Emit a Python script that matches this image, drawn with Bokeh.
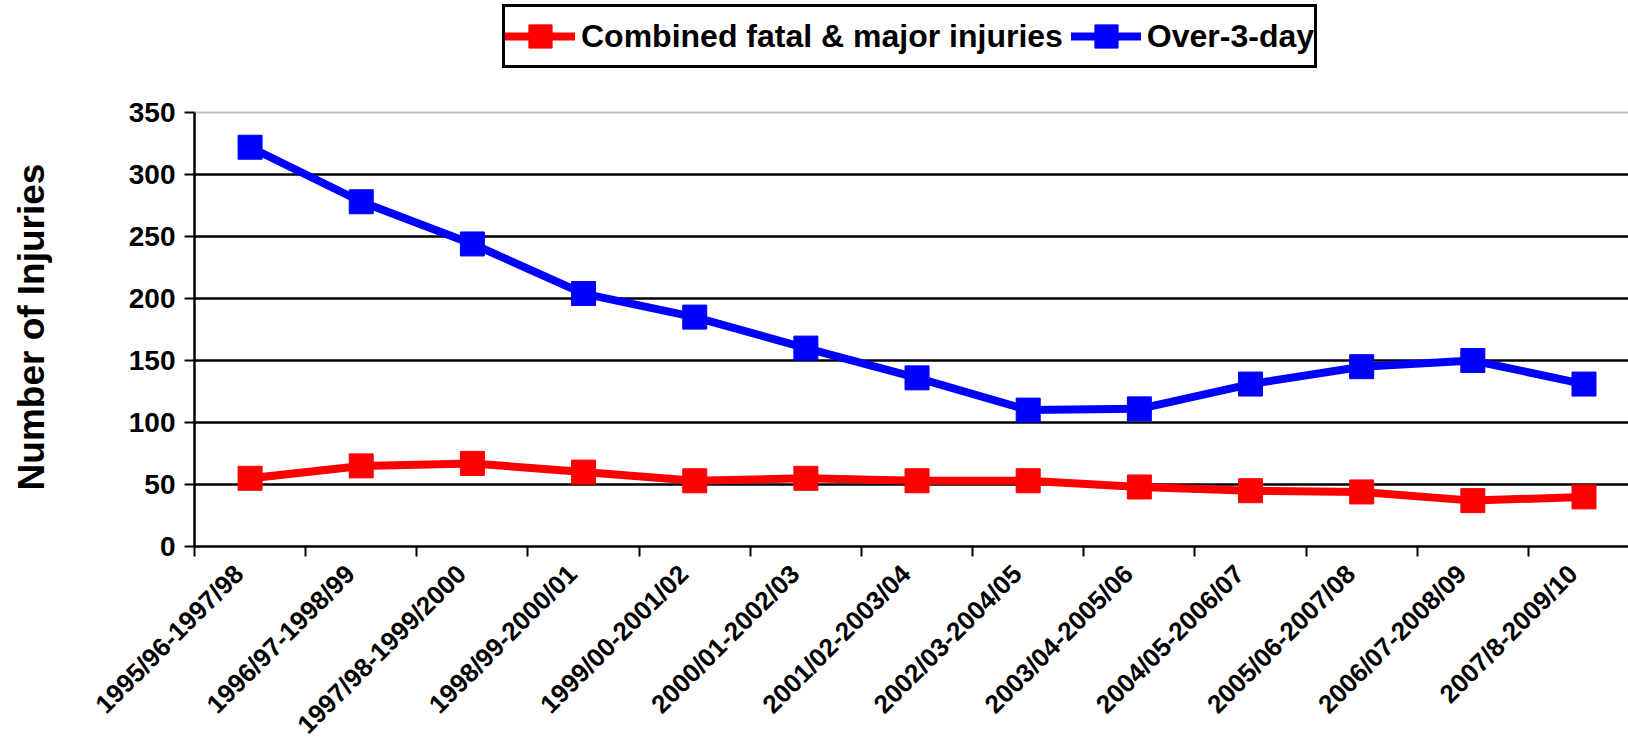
import math
from bokeh.plotting import figure
from bokeh.models import Range1d, FixedTicker, Legend, LegendItem
from bokeh.core.properties import value
from bokeh.embed import file_html
from bokeh.resources import INLINE

categories = ["1995/96-1997/98", "1996/97-1998/99", "1997/98-1999/2000",
              "1998/99-2000/01", "1999/00-2001/02", "2000/01-2002/03",
              "2001/02-2003/04", "2002/03-2004/05", "2003/04-2005/06",
              "2004/05-2006/07", "2005/06-2007/08", "2006/07-2008/09",
              "2007/8-2009/10"]
fatal_major = [55, 65, 67, 60, 53, 55, 53, 53, 48, 45, 44, 37, 40]
over_3_day = [322, 278, 244, 204, 185, 160, 136, 110, 111, 131, 145, 150, 131]
y_ticks = [0, 50, 100, 150, 200, 250, 300, 350]
y_tick_labels = ["0", "50", "100", "150", "200", "250", "300", "350"]
grid_ticks = [50, 100, 150, 200, 250, 300]
top_gridline = [350]
y_title = "Number of Injuries"

FONT = "Liberation Sans"
n = len(categories)
xs = [i + 0.5 for i in range(n)]
bounds = list(range(n + 1))

# page geometry: the plotting frame fills the whole figure, the axes sit at 0
W, H = 1628, 742
AX_X, AX_Y = 194, 546            # page position of x=0 and y=0
CAT_PX = 111.16                  # pixels per category
PPU = (AX_Y - 112) / 350.0       # pixels per injury
x_start, x_end = -AX_X / CAT_PX, (W - AX_X) / CAT_PX
y_start, y_end = -(H - AX_Y) / PPU, AX_Y / PPU
ytitle_val = (AX_Y - 326.5) / PPU

p = figure(width=W, height=H, output_backend="svg", toolbar_location=None,
           x_range=Range1d(x_start, x_end), y_range=Range1d(y_start, y_end),
           min_border_left=0, min_border_top=0, min_border_bottom=0, min_border_right=0)
p.outline_line_color = None
p.background_fill_color = "white"
p.border_fill_color = "white"
p.grid.visible = False

# horizontal gridlines across the plot area only
p.segment(x0=[0] * len(grid_ticks), x1=[x_end] * len(grid_ticks), y0=grid_ticks, y1=grid_ticks,
          line_color="black", line_width=2.5, level="underlay")
p.segment(x0=[0], x1=[x_end], y0=top_gridline, y1=top_gridline,
          line_color="#c0c0c0", line_width=2, level="underlay")

# axes drawn at 0 inside the frame, ticks only
xa = p.xaxis[0]
xa.fixed_location = 0
xa.bounds = (0, x_end)
xa.ticker = FixedTicker(ticks=[], minor_ticks=bounds)
xa.major_tick_out = 0
xa.major_tick_in = 0
xa.major_label_standoff = 0
xa.minor_tick_out = 10
xa.minor_tick_in = 0
xa.minor_tick_line_width = 2
xa.minor_tick_line_color = "black"
xa.axis_line_width = 2.5
xa.axis_line_color = "black"

ya = p.yaxis[0]
ya.fixed_location = 0
ya.bounds = (0, 350)
ya.ticker = FixedTicker(ticks=[], minor_ticks=y_ticks)
ya.major_tick_out = 0
ya.major_tick_in = 0
ya.major_label_standoff = 0
ya.minor_tick_out = 10
ya.minor_tick_in = 0
ya.minor_tick_line_width = 2
ya.minor_tick_line_color = "black"
ya.axis_line_width = 2.5
ya.axis_line_color = "black"

# data
rb_l = p.line(xs, over_3_day, line_color="#0000FF", line_width=8, line_cap="round")
rb_s = p.scatter(xs, over_3_day, marker="square", size=24, fill_color="#0000FF", line_color="#0000FF")
rr_l = p.line(xs, fatal_major, line_color="#FF0000", line_width=8, line_cap="round")
rr_s = p.scatter(xs, fatal_major, marker="square", size=24, fill_color="#FF0000", line_color="#FF0000")

# tick labels and axis title
p.text(x=[0] * len(y_ticks), y=y_ticks, text=y_tick_labels, x_offset=-19,
       text_align="right", text_baseline="middle",
       text_font=value(FONT), text_font_size="28px", text_font_style="bold",
       text_color="black")
p.text(x=[x - 0.1 for x in xs], y=[0] * n, text=categories, y_offset=23,
       angle=math.radians(45), text_align="right", text_baseline="middle",
       text_font=value(FONT), text_font_size="26px", text_font_style="bold",
       text_color="black")
p.text(x=[0], y=[ytitle_val], text=[y_title], x_offset=31 - AX_X,
       angle=math.pi / 2, text_align="center", text_baseline="middle",
       text_font=value(FONT), text_font_size="37px", text_font_style="bold",
       text_color="black")

legend = Legend(items=[LegendItem(label="Combined fatal & major injuries", renderers=[rr_l, rr_s]),
                       LegendItem(label="Over-3-day", renderers=[rb_l, rb_s])],
                orientation="horizontal", location=(502, H - 68), padding=0, spacing=8,
                glyph_width=70, glyph_height=58, label_standoff=6, margin=0,
                border_line_color="black", border_line_width=3, border_line_alpha=1.0,
                label_text_font=FONT, label_text_font_size="32px",
                label_text_font_style="bold", label_text_color="black",
                background_fill_color="white", background_fill_alpha=1.0)
p.add_layout(legend)

open("out.html", "w").write(file_html(p, INLINE))
